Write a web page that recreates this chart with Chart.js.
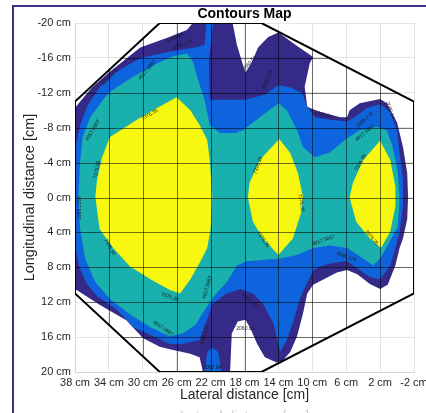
<!DOCTYPE html>
<html>
<head>
<meta charset="utf-8">
<title>Contours Map</title>
<script src="https://cdn.jsdelivr.net/npm/chart.js@4.4.0/dist/chart.umd.min.js"></script>
<style>
    html, body { margin: 0; padding: 0; background: #fff; }
    #wrap { position: relative; width: 426px; height: 413px; overflow: hidden; }
    #frame { position: absolute; left: 12px; top: 5px; right: 0; bottom: 0;
             border-left: 2px solid #3b3386; border-top: 2px solid #3b3386; pointer-events: none; }
</style>
</head>
<body>
<div id="wrap">
    <canvas id="contourChart" width="426" height="413"></canvas>
    <div id="frame"></div>
</div>
<script>
// Axis ticks (cm)
const xTickValues = [38, 34, 30, 26, 22, 18, 14, 10, 6, 2, -2];
const yTickValues = [-20, -16, -12, -8, -4, 0, 4, 8, 12, 16, 20];

// Contour levels, lowest first
const contourLevels = ['2060.64', '3585.175', '4917.5667', '7376.35'];
const levelColors = ['#352a87', '#0d64dd', '#19b0ad', '#f7f70f'];

// Sensor outline [lateral, longitudinal]
const sensorOutline = [[38, -11], [28, -20], [16, -20], [-2, -11], [-2, 11], [16, 20], [28, 20], [38, 11], [38, -11]];

// Level 1 region (2060.64)
const level1 = [[38, -10.3], [36.0, -12.6], [33.9, -14.4], [30.3, -17.2], [27.1, -18.3], [24.8, -19.2], [24.1, -20], [19.4, -20],
    [18.9, -17.5], [17.9, -14.3], [17.1, -15.6], [16.4, -17.2], [15.2, -18.4], [14.0, -18.9], [12.0, -17.5], [9.9, -16.1],
    [10.3, -15.4], [10.9, -12.7], [10.6, -10.4], [9.4, -9.9], [6.7, -9.2], [5.9, -9.2], [5.6, -10.0], [4.4, -10.8], [2.0, -11.3],
    [1.2, -10.8], [0.0, -8.6], [-0.7, -5.8], [-1.2, -2.8], [-1.3, -0.1], [-1.2, 2.5], [-0.7, 4.7], [-0.3, 5.8], [0.2, 7.8],
    [1.1, 10.0], [2.0, 10.5], [3.2, 9.9], [4.7, 8.8], [5.9, 8.3], [7.1, 8.6], [8.7, 9.4], [9.9, 10.0], [10.6, 11.0], [11.1, 13.3],
    [11.8, 15.9], [12.6, 17.7], [13.5, 18.7], [14.2, 18.9], [15.6, 18.3], [16.5, 16.8], [17.4, 14.8], [17.9, 14.0], [18.8, 14.2],
    [19.5, 15.6], [19.7, 20], [22.9, 20], [23.3, 18.3], [24.4, 17.9], [26.8, 17.4], [28.0, 17.1], [30.0, 16.1], [31.9, 14.1],
    [35.1, 12.3], [37.8, 10.6], [38, 10.6], [38, -10.3]];

// Level 2 region (3585.175)
const level2 = [[22.5, -20], [21.7, -20], [22.2, -15.8], [22.1, -11.2], [17.9, -11.2], [15.6, -11.8], [14.0, -12.9], [12.6, -12.6],
    [11.2, -12.0], [10.7, -10.6], [9.7, -9.2], [7.9, -8.9], [5.9, -8.7], [5.0, -9.2], [3.5, -10.3], [2.0, -10.7], [0.8, -9.8],
    [0.0, -7.7], [-0.3, -5.1], [-0.7, -2.0], [-0.7, 1.0], [-0.3, 3.9], [0.2, 5.8], [0.8, 7.8], [2.0, 9.4], [3.2, 9.1], [4.7, 8.1],
    [5.9, 7.3], [7.6, 7.5], [9.1, 7.9], [9.9, 8.4], [10.6, 9.7], [11.5, 11.7], [12.3, 14.4], [13.0, 16.3], [13.8, 17.7],
    [14.0, 16.8], [14.6, 14.4], [15.8, 12.2], [17.0, 11.0], [18.5, 10.5], [20.1, 11.0], [21.8, 12.2], [22.5, 14.2], [23.3, 16.3],
    [25.3, 16.8], [26.8, 16.8], [29.2, 15.7], [31.2, 14.8], [33.0, 12.9], [35.4, 11.3], [36.6, 9.9], [37.5, 7.9], [38, 5.6],
    [38, -5.5], [37.4, -8.3], [36.5, -10.6], [35.1, -12.6], [33.3, -14.3], [30.3, -16.0], [27.4, -16.6], [25.6, -16.9],
    [23.8, -17.2], [22.7, -17.5], [22.5, -20]];
const level2Spot = [[22.7, 20], [22.4, 17.7], [21.8, 17.2], [21.1, 17.7], [20.7, 20], [22.7, 20]];

// Level 3 region (4917.5667)
const level3 = [[37.4, -4.0], [37.1, -6.9], [36.2, -9.2], [34.7, -11.2], [33.9, -12.1], [31.2, -13.8], [28.3, -15.4], [26.4, -16.2],
    [24.8, -16.5], [24.1, -15.6], [23.3, -12.9], [22.7, -11.2], [22.1, -8.3], [20.9, -7.4], [19.1, -7.4], [18.2, -7.7],
    [16.2, -9.2], [14.0, -10.8], [13.0, -10.0], [11.8, -7.7], [11.1, -5.8], [9.7, -4.6], [7.9, -5.2], [5.9, -6.8], [4.4, -7.7],
    [2.4, -8.1], [1.2, -7.7], [0.5, -5.8], [-0.1, -2.8], [-0.3, 0.2], [-0.1, 3.3], [1.1, 5.5], [2.0, 7.0], [2.8, 7.8], [4.0, 7.0],
    [5.9, 5.8], [7.9, 5.5], [9.9, 5.8], [11.8, 6.6], [13.8, 7.0], [17.7, 7.3], [18.9, 7.8], [20.1, 9.7], [21.5, 11.2],
    [22.7, 12.9], [23.8, 14.6], [25.3, 15.6], [26.8, 15.9], [27.6, 15.6], [29.2, 14.8], [31.5, 13.4], [33.9, 11.6], [35.6, 9.7],
    [36.8, 7.0], [37.4, 3.6], [37.6, -0.1], [37.4, -4.0]];

// Level 4 peaks (7376.35)
const peakLeft = [[26.0, -11.5], [24.4, -10.0], [23.3, -8.3], [22.4, -6.6], [22.1, -4.3], [21.8, -0.1], [22.0, 3.6], [22.4, 5.8],
    [23.3, 7.5], [24.4, 9.4], [25.6, 11.0], [26.8, 10.6], [29.2, 9.3], [31.5, 7.9], [33.5, 5.8], [35.1, 3.6], [35.6, -0.1],
    [35.4, -2.0], [34.8, -4.6], [33.9, -6.9], [30.7, -8.9], [28.8, -10.0], [26.0, -11.5]];
const peakMiddle = [[13.9, -6.7], [12.6, -5.1], [11.7, -2.8], [11.1, -0.1], [11.3, 1.7], [12.3, 4.7], [14.0, 6.6], [15.8, 4.7],
    [17.0, 2.8], [17.6, 0.0], [17.4, -1.7], [16.2, -4.3], [13.9, -6.7]];
const peakRight = [[2.0, -6.5], [0.8, -4.3], [0.2, -1.2], [0.2, 1.0], [0.8, 3.9], [1.9, 5.8], [3.2, 4.7], [4.8, 2.8], [5.6, 0.0],
    [5.2, -1.7], [4.0, -4.3], [2.0, -6.5]];

// Contour labels: position, level index, angle (deg)
const labelX = [26.2, 25.3, 29.5, 33.9, 35.9, 29.2, 35.4, 37.6, 33.9, 16.4, 11.3, 15.8, 8.7, 6.0, 4.3, 3.0, 26.8, 22.4, 17.4, 17.9, 22.7, 27.6, 21.8, 17.4, 15.3, 8.7, 3.8, 3.8, 0.8];
const labelY = [-18.3, -17.5, -14.6, -13.8, -7.7, -9.5, -3.2, 1.2, 5.7, -3.7, 0.6, 4.8, 4.9, 6.8, -4.0, 4.6, 11.4, 10.3, 11.8, 15.0, 15.8, 15.0, 19.5, -15.4, -13.5, -9.5, -8.9, -7.4, -10.0];
const labelLevel = [0, 1, 2, 1, 2, 3, 3, 2, 3, 3, 3, 3, 2, 1, 3, 3, 3, 2, 1, 0, 1, 2, 0, 0, 1, 0, 1, 2, 0];
const labelAngle = [-25, -25, -50, -45, -60, -30, -80, 90, 60, -70, 80, 55, -20, 20, -60, 50, 20, -75, 40, 0, -75, 35, 0, -50, -70, 15, -40, -40, 70];

const fontFamily = "'Liberation Sans', Arial, Helvetica, sans-serif";

function toPoints(list) {
    return list.map(p => ({ x: p[0], y: p[1] }));
}

function region(list, level, order) {
    return {
        data: toPoints(list),
        showLine: true,
        fill: 'shape',
        backgroundColor: levelColors[level],
        borderColor: levelColors[level],
        borderWidth: 0,
        pointRadius: 0,
        order: order
    };
}

// Grid mesh inside the sensor, contour labels and title
const overlayPlugin = {
    id: 'overlay',
    beforeDatasetDraw(chart, args) {
        if (args.index !== 0) return;
        const { ctx, chartArea, scales: { x, y } } = chart;
        ctx.save();
        ctx.beginPath();
        sensorOutline.forEach((p, i) => {
            const px = x.getPixelForValue(p[0]);
            const py = y.getPixelForValue(p[1]);
            if (i === 0) ctx.moveTo(px, py); else ctx.lineTo(px, py);
        });
        ctx.closePath();
        ctx.clip();
        ctx.strokeStyle = 'rgba(0, 0, 0, 0.55)';
        ctx.lineWidth = 1;
        xTickValues.forEach(v => {
            const px = Math.round(x.getPixelForValue(v)) + 0.5;
            ctx.beginPath(); ctx.moveTo(px, chartArea.top); ctx.lineTo(px, chartArea.bottom); ctx.stroke();
        });
        yTickValues.forEach(v => {
            const py = Math.round(y.getPixelForValue(v)) + 0.5;
            ctx.beginPath(); ctx.moveTo(chartArea.left, py); ctx.lineTo(chartArea.right, py); ctx.stroke();
        });
        ctx.restore();
    },
    afterDatasetsDraw(chart) {
        const { ctx, chartArea, scales: { x, y } } = chart;
        ctx.save();
        ctx.fillStyle = '#1c1c1c';
        ctx.font = '5px ' + fontFamily;
        ctx.textAlign = 'center';
        ctx.textBaseline = 'middle';
        labelX.forEach((lx, i) => {
            ctx.save();
            ctx.translate(x.getPixelForValue(lx), y.getPixelForValue(labelY[i]));
            ctx.rotate(labelAngle[i] * Math.PI / 180);
            ctx.fillText(contourLevels[labelLevel[i]], 0, 0);
            ctx.restore();
        });
        const cx = (chartArea.left + chartArea.right) / 2;
        ctx.fillStyle = '#000';
        ctx.font = 'bold 14px ' + fontFamily;
        ctx.fillText('Contours Map', cx, 14);
        // faint echo of the axis title cut by the window edge
        ctx.fillStyle = 'rgba(70, 70, 110, 0.28)';
        ctx.font = '14px ' + fontFamily;
        ctx.fillText('Lateral distance [cm]', cx, 417);
        ctx.restore();
    }
};

const ctx = document.getElementById('contourChart').getContext('2d');
const contourChart = new Chart(ctx, {
    type: 'scatter',
    data: {
        datasets: [
            {
                data: toPoints(sensorOutline),
                showLine: true,
                fill: false,
                borderColor: '#000',
                borderWidth: 2,
                pointRadius: 0,
                order: 0
            },
            region(peakLeft, 3, 1),
            region(peakMiddle, 3, 1),
            region(peakRight, 3, 1),
            region(level3, 2, 2),
            region(level2, 1, 3),
            region(level2Spot, 1, 3),
            region(level1, 0, 4)
        ]
    },
    options: {
        responsive: false,
        animation: false,
        events: [],
        layout: { padding: { top: 23, right: 12, left: 0, bottom: 0 } },
        plugins: {
            legend: { display: false },
            tooltip: { enabled: false },
            title: { display: false }
        },
        scales: {
            x: {
                type: 'linear',
                min: -2,
                max: 38,
                reverse: true,
                afterBuildTicks: s => { s.ticks = xTickValues.map(v => ({ value: v })); },
                afterFit: s => { s.height = 41; s.paddingLeft = 0; s.paddingRight = 0; },
                grid: { color: '#e4e4e4', drawTicks: false },
                border: { color: '#d6d6d6' },
                ticks: {
                    padding: 4,
                    color: '#262626',
                    maxRotation: 0,
                    autoSkip: false,
                    font: { size: 11, family: fontFamily },
                    callback: v => v + ' cm'
                },
                title: {
                    display: true,
                    text: 'Lateral distance [cm]',
                    color: '#262626',
                    font: { size: 14, family: fontFamily },
                    padding: { top: 0, bottom: 9 }
                }
            },
            y: {
                type: 'linear',
                min: -20,
                max: 20,
                reverse: true,
                afterBuildTicks: s => { s.ticks = yTickValues.map(v => ({ value: v })); },
                afterFit: s => { s.width = 75; s.paddingTop = 0; s.paddingBottom = 0; },
                grid: { color: '#e4e4e4', drawTicks: false },
                border: { color: '#d6d6d6' },
                ticks: {
                    padding: 4,
                    color: '#262626',
                    autoSkip: false,
                    font: { size: 11, family: fontFamily },
                    callback: v => v + ' cm'
                },
                title: {
                    display: true,
                    text: 'Longitudinal distance [cm]',
                    color: '#262626',
                    font: { size: 14.5, family: fontFamily },
                    padding: { top: 21, bottom: 0 }
                }
            }
        }
    },
    plugins: [overlayPlugin]
});
</script>
</body>
</html>
